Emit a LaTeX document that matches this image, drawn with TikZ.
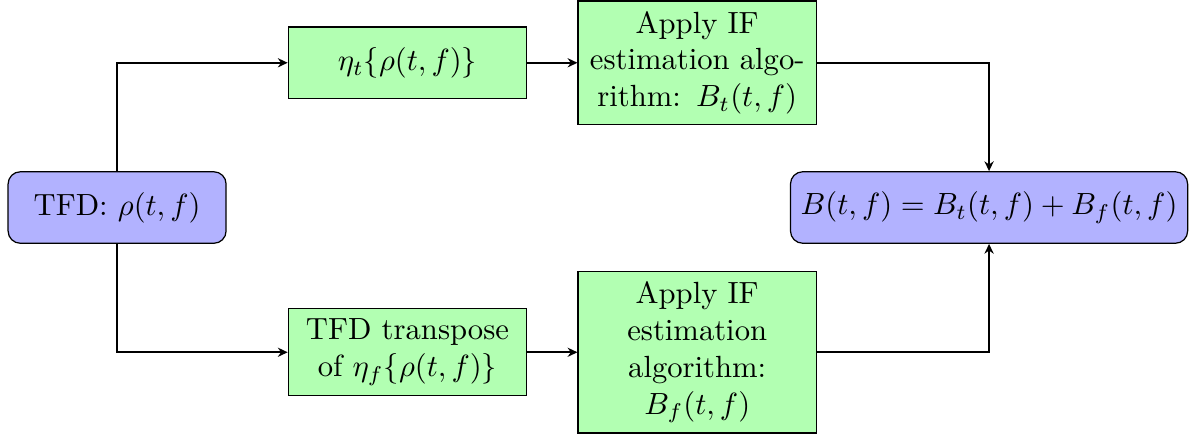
\documentclass[tikz,border=0pt]{standalone}
\usepackage{amsmath,amssymb}
\usepackage{tikz}
\usetikzlibrary{arrows.meta,positioning}

\begin{document}
\begin{tikzpicture}[
  proc/.style={draw, fill=green!30, text width=2.5cm, align=center, inner sep=3.33pt},
  sig/.style={draw, rounded corners=4pt, fill=blue!30, minimum width=2.5cm,
              minimum height=0.82cm, align=center},
  arr/.style={semithick, -{Stealth[length=3.2pt, width=3pt]}}
]
\useasboundingbox (-1.343,-2.626) rectangle (12.316,2.38);
\node[sig] (tfd) at (0,0) {TFD: $\rho(t,f)$};
\node[proc, minimum height=0.82cm] (etat) at (3.33,1.66) {$\eta_t\{\rho(t,f)\}$};
\node[proc, right=5.75mm of etat] (algt) {Apply IF\\ estimation algo-\\ rithm: $B_t(t,f)$};
\node[proc] (etaf) at (3.33,-1.66) {TFD transpose\\ of $\eta_f\{\rho(t,f)\}$};
\node[proc, right=5.75mm of etaf] (algf) {Apply IF\\ estimation\\ algorithm:\\ $B_f(t,f)$};
\node[sig] (sum) at (10,0) {$B(t,f) = B_t(t,f) + B_f(t,f)$};

\draw[arr] (tfd.north) |- (etat.west);
\draw[arr] (tfd.south) |- (etaf.west);
\draw[arr] (etat) -- (algt);
\draw[arr] (etaf) -- (algf);
\draw[arr] (algt.east) -| (sum.north);
\draw[arr] (algf.east) -| (sum.south);
\end{tikzpicture}
\end{document}
